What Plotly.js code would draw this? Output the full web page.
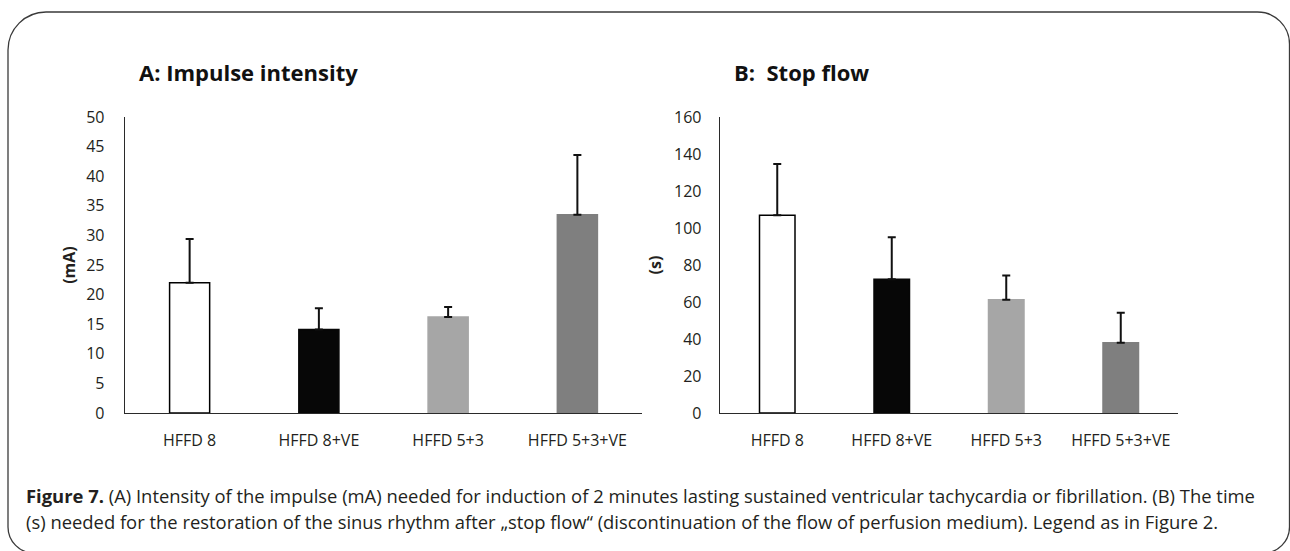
<!DOCTYPE html>
<html>
<head>
<meta charset="utf-8">
<script src="https://cdn.plot.ly/plotly-3.0.1.min.js"></script>
<style>
html,body{margin:0;padding:0;background:#fff;}
#chart{width:1290px;height:551px;}
</style>
</head>
<body>
<div id="chart"></div>
<script>
// ---- data ----
const categories = ["HFFD 8", "HFFD 8+VE", "HFFD 5+3", "HFFD 5+3+VE"];
const impulseMean = [22.0, 14.1, 16.2, 33.5];
const impulseErr  = [7.4, 3.6, 1.7, 10.1];
const stopMean = [106.9, 72.3, 61.2, 38.0];
const stopErr  = [27.7, 22.7, 13.1, 16.2];
const barColors = ["#ffffff", "#070707", "#a6a6a6", "#7f7f7f"];
const barLines  = ["#000000", "#070707", "#a6a6a6", "#7f7f7f"];
const yTicksA = [0,5,10,15,20,25,30,35,40,45,50];
const yTicksB = [0,20,40,60,80,100,120,140,160];
const titleA = "A: Impulse intensity";
const titleB = "B:&nbsp; Stop flow";
const yTitleA = "(mA)";
const yTitleB = "(s)";
const captionLine1 = "<b>Figure 7.</b> (A) Intensity of the impulse (mA) needed for induction of 2 minutes lasting sustained ventricular tachycardia or fibrillation. (B) The time";
const captionLine2 = "(s) needed for the restoration of the sinus rhythm after \u201estop flow\u201c (discontinuation of the flow of perfusion medium). Legend as in Figure 2.";

const W = 1290, H = 551;
const px = v => v / W;
const py = v => 1 - v / H;

const FONT = "Open Sans, sans-serif";
const TXT = "#231f20";

function barTrace(vals, errs, xa, ya) {
  return {
    type: "bar",
    x: categories,
    y: vals,
    xaxis: xa, yaxis: ya,
    width: 0.31,
    marker: {color: barColors, line: {color: barLines, width: 1.5}},
    error_y: {type: "data", array: errs, arrayminus: errs.map(() => 0), symmetric: false,
              color: "#111", thickness: 2, width: 4},
    showlegend: false,
    hoverinfo: "x+y"
  };
}

const data = [
  barTrace(impulseMean, impulseErr, "x", "y"),
  barTrace(stopMean, stopErr, "x2", "y2")
];

const yDom = [py(413), py(117)];
const axisCommon = {
  showgrid: false, zeroline: false, showline: true, linecolor: "#2a2a2a", linewidth: 1.3,
  ticks: "", tickfont: {family: FONT, size: 16, color: TXT}, fixedrange: true
};

const layout = {
  width: W, height: H,
  margin: {l: 0, r: 0, t: 0, b: 0},
  paper_bgcolor: "#fff", plot_bgcolor: "rgba(0,0,0,0)",
  font: {family: FONT, color: TXT},
  xaxis: Object.assign({}, axisCommon, {domain: [px(125), px(642)], anchor: "y", ticklabelstandoff: 12,
    categoryorder: "array", categoryarray: categories}),
  yaxis: Object.assign({}, axisCommon, {domain: yDom, anchor: "x", range: [0, 50], tickvals: yTicksA,
    ticklabelstandoff: 16,
    title: {text: "<b>" + yTitleA + "</b>", font: {family: FONT, size: 16, color: TXT}, standoff: 6}}),
  xaxis2: Object.assign({}, axisCommon, {domain: [px(720), px(1178)], anchor: "y2", ticklabelstandoff: 12,
    categoryorder: "array", categoryarray: categories}),
  yaxis2: Object.assign({}, axisCommon, {domain: yDom, anchor: "x2", range: [0, 160], tickvals: yTicksB,
    ticklabelstandoff: 14,
    title: {text: "<b>" + yTitleB + "</b>", font: {family: FONT, size: 16, color: TXT}, standoff: 8}}),
  annotations: [
    {xref: "paper", yref: "paper", x: px(137), y: py(72), xanchor: "left", yanchor: "middle",
     text: "<b>" + titleA + "</b>", showarrow: false, font: {family: FONT, size: 22, color: "#111"}},
    {xref: "paper", yref: "paper", x: px(732), y: py(72), xanchor: "left", yanchor: "middle",
     text: "<b>" + titleB + "</b>", showarrow: false, font: {family: FONT, size: 22, color: "#111"}},
    {xref: "paper", yref: "paper", x: px(24), y: py(495), xanchor: "left", yanchor: "middle",
     text: captionLine1, showarrow: false, font: {family: FONT, size: 18.4, color: TXT}},
    {xref: "paper", yref: "paper", x: px(24), y: py(521), xanchor: "left", yanchor: "middle",
     text: captionLine2, showarrow: false, font: {family: FONT, size: 18.4, color: TXT}}
  ],
  shapes: [
    {type: "path", xref: "paper", yref: "paper", layer: "below",
     line: {color: "#3a3a3a", width: 1.3},
     path: (function(){
       const L = 8, R = 1289.5, T = 12, B = 553;
       const r1 = 38, r2 = 32, r3 = 26, r4 = 26;
       const k = 0.5523;
       const P = (x, y) => px(x).toFixed(5) + "," + py(y).toFixed(5);
       return "M " + P(L + r1, T) + " L " + P(R - r2, T) +
         " C " + P(R - r2 + r2*k, T) + " " + P(R, T + r2 - r2*k) + " " + P(R, T + r2) +
         " L " + P(R, B - r3) +
         " C " + P(R, B - r3 + r3*k) + " " + P(R - r3 + r3*k, B) + " " + P(R - r3, B) +
         " L " + P(L + r4, B) +
         " C " + P(L + r4 - r4*k, B) + " " + P(L, B - r4 + r4*k) + " " + P(L, B - r4) +
         " L " + P(L, T + r1) +
         " C " + P(L, T + r1 - r1*k) + " " + P(L + r1 - r1*k, T) + " " + P(L + r1, T) + " Z";
     })()}
  ]
};

Plotly.newPlot("chart", data, layout, {displayModeBar: false, staticPlot: true});
</script>
</body>
</html>
